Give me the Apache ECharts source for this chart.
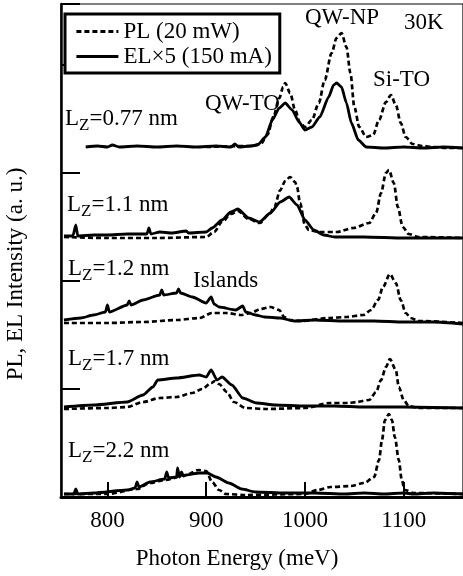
<!DOCTYPE html>
<html>
<head>
<meta charset="utf-8">
<script src="https://cdn.jsdelivr.net/npm/echarts@6/dist/echarts.min.js"></script>
<style>
  html, body { margin: 0; padding: 0; background: #fff; }
  #chart { width: 463px; height: 576px; }
</style>
</head>
<body>
<div id="chart"></div>
<script>
// Photon energy axis (meV) and labelled ticks
const energyTicks = [800, 900, 1000, 1100];

// Well widths for each stacked spectrum (top to bottom)
const wellWidths = ['0.77', '1.1', '1.2', '1.7', '2.2'];

// Vertical offset of each spectrum's baseline (a. u.)
const baselines = [350, 259, 174, 89, 3];

// Spectra as [photon energy (meV), intensity (a. u.)]
// Lz = 0.77 nm
const el077 = [[778,0],[790,1],[800,0],[805,2],[812,0],[830,1],[850,0],[870,1],[890,0],[910,1],[925,0],[929,3],[933,0],[945,1],[952,2],[960,10],[967,27],[974,39],[980,44],[987,37],[994,25],[1000,17],[1007,20],[1015,30],[1024,50],[1029,62],[1032,64],[1037,60],[1042,44],[1047,24],[1054,7],[1062,0],[1080,-1],[1100,0],[1120,-1],[1140,0],[1160,-1]];
const pl077 = [[900,0],[945,1],[955,3],[962,12],[968,30],[974,49],[978,60],[980,64],[985,54],[990,37],[995,24],[1000,20],[1007,27],[1014,44],[1020,67],[1027,94],[1032,109],[1037,114],[1042,100],[1046,74],[1050,40],[1055,20],[1062,10],[1069,12],[1075,27],[1082,45],[1087,52],[1092,42],[1097,24],[1102,10],[1109,3],[1119,1],[1130,0],[1145,-1],[1160,-1]];

// Lz = 1.1 nm
const el11 = [[756,2],[765,2],[768,13],[770,2],[786,3],[800,3],[820,4],[840,4],[842,10],[844,4],[853,6],[865,5],[880,7],[882,5],[900,6],[906,10],[916,18],[925,26],[932,29],[943,20],[954,16],[965,25],[975,36],[984,41],[992,33],[1000,18],[1009,8],[1019,3],[1030,1],[1060,1],[1100,0],[1130,0],[1160,0]];
const pl11 = [[756,1],[800,0],[850,0],[900,1],[908,6],[916,16],[925,24],[932,27],[943,19],[954,15],[964,24],[969,31],[975,48],[980,57],[985,61],[990,56],[992,51],[995,35],[1000,13],[1004,8],[1014,6],[1032,6],[1049,10],[1065,15],[1072,25],[1077,45],[1082,65],[1085,68],[1090,55],[1094,31],[1099,11],[1105,4],[1115,1],[1160,0]];

// Lz = 1.2 nm
const el12 = [[756,3],[773,5],[786,8],[798,11],[800,18],[802,11],[820,18],[822,22],[824,18],[836,23],[853,28],[855,33],[857,28],[870,30],[872,34],[874,30],[886,26],[900,20],[905,26],[908,19],[913,16],[930,13],[937,17],[940,11],[950,8],[959,6],[975,5],[989,2],[1010,3],[1040,2],[1070,2],[1100,1],[1130,1],[1160,-1]];
const pl12 = [[756,0],[800,0],[836,1],[870,3],[893,5],[906,10],[920,10],[936,8],[945,10],[955,14],[965,16],[974,13],[979,6],[985,3],[995,2],[1025,5],[1042,6],[1059,8],[1067,13],[1074,23],[1079,36],[1086,49],[1092,40],[1097,23],[1102,10],[1107,5],[1115,2],[1160,0]];

// Lz = 1.7 nm
const el17 = [[756,1],[786,3],[820,6],[836,13],[846,21],[851,28],[870,30],[893,33],[900,31],[905,38],[911,28],[916,31],[926,23],[937,10],[951,5],[970,3],[1000,2],[1030,2],[1060,1],[1100,1],[1160,0]];
const pl17 = [[756,-1],[800,0],[820,1],[836,6],[853,10],[870,11],[886,15],[896,19],[905,25],[909,27],[913,24],[921,16],[928,6],[940,0],[960,-1],[1000,0],[1025,5],[1045,5],[1052,6],[1065,8],[1072,16],[1077,28],[1082,41],[1086,49],[1092,38],[1095,21],[1100,8],[1105,2],[1115,0],[1160,0]];

// Lz = 2.2 nm
const el22 = [[756,0],[766,0],[768,5],[770,0],[786,1],[820,4],[828,6],[830,12],[832,7],[843,12],[858,15],[860,22],[862,16],[870,17],[871,26],[873,17],[875,22],[877,18],[880,19],[893,21],[901,21],[910,17],[923,11],[936,5],[950,2],[980,1],[1010,1],[1040,0],[1060,1],[1080,0],[1100,1],[1110,0],[1130,1],[1160,0]];
const pl22 = [[756,0],[800,0],[830,5],[843,11],[858,14],[880,19],[892,24],[900,23],[906,12],[913,4],[920,0],[940,-1],[1000,0],[1013,4],[1026,7],[1046,8],[1060,11],[1070,17],[1075,34],[1078,54],[1081,74],[1085,80],[1088,74],[1091,57],[1095,34],[1098,14],[1101,4],[1110,1],[1160,0]];

const plSpectra = [pl077, pl11, pl12, pl17, pl22];
const elSpectra = [el077, el11, el12, el17, el22];

const plName = 'PL (20 mW)';
const elName = 'EL×5 (150 mA)';

const serif = '"Liberation Serif", "DejaVu Serif", serif';

const series = [];
plSpectra.forEach((spec, i) => {
  series.push({
    name: plName, type: 'line', symbol: 'none', smooth: 0.3, smoothMonotone: 'x',
    data: spec.map(([e, v]) => [e, v + baselines[i]]),
    lineStyle: { color: '#000', width: 2.7, type: [5, 3] },
    itemStyle: { color: '#000' },
    z: 3
  });
});
elSpectra.forEach((spec, i) => {
  series.push({
    name: elName, type: 'line', symbol: 'none', smooth: 0.2, smoothMonotone: 'x',
    data: spec.map(([e, v]) => [e, v + baselines[i]]),
    lineStyle: { color: '#000', width: 2.8 },
    itemStyle: { color: '#000' },
    z: 4
  });
});

// Text annotations
const labelFont = '23px ' + serif;
const wellLabelPos = [[65, 119], [67, 205], [68, 269], [68, 359], [68, 451]];
const graphics = wellWidths.map((w, i) => ({
  type: 'text', x: wellLabelPos[i][0], y: wellLabelPos[i][1], z: 5,
  style: {
    text: 'L{sub|Z}=' + w + ' nm',
    fontSize: 23, fontFamily: serif, fill: '#000',
    align: 'left', verticalAlign: 'middle',
    rich: { sub: { fontSize: 17, fontFamily: serif, fill: '#000', padding: [14, 0, 0, 0], verticalAlign: 'bottom' } }
  }
}));
[
  ['QW-TO', 205, 104], ['QW-NP', 305, 18], ['30K', 404, 23],
  ['Si-TO', 373, 80], ['Islands', 193, 281]
].forEach(([t, x, y]) => graphics.push({
  type: 'text', x, y, z: 5,
  style: { text: t, font: labelFont, fill: '#000', align: 'left', verticalAlign: 'middle' }
}));
graphics.push({
  type: 'text', x: 237, y: 559, z: 5,
  style: { text: 'Photon Energy (meV)', font: labelFont, fill: '#000', align: 'center', verticalAlign: 'middle' }
});
graphics.push({
  type: 'text', x: 16, y: 274, rotation: Math.PI / 2, z: 5,
  style: { text: 'PL, EL Intensity (a. u.)', font: labelFont, fill: '#000', align: 'center', verticalAlign: 'middle' }
});

const chart = echarts.init(document.getElementById('chart'), null, { renderer: 'canvas' });
chart.setOption({
  backgroundColor: '#fff',
  animation: false,
  grid: { left: 61, top: 4, width: 407, height: 493, show: true, borderColor: '#000', borderWidth: 1.2, backgroundColor: 'transparent' },
  xAxis: {
    type: 'value', min: 753, max: 1160,
    axisLine: { show: true, lineStyle: { color: '#000', width: 3 } },
    axisTick: { show: true, inside: true, length: 15, customValues: energyTicks, lineStyle: { color: '#000', width: 2 } },
    axisLabel: { show: true, customValues: energyTicks, formatter: v => String(v), fontSize: 23, fontFamily: serif, color: '#000', margin: 12 },
    splitLine: { show: false }
  },
  yAxis: {
    type: 'value', min: 0, max: 493, interval: 108,
    axisLine: { show: true, lineStyle: { color: '#000', width: 2.5 } },
    axisTick: { show: true, inside: true, length: 19, lineStyle: { color: '#000', width: 2 } },
    axisLabel: { show: false },
    splitLine: { show: false }
  },
  legend: {
    data: [plName, elName],
    orient: 'vertical', left: 65, top: 14,
    itemWidth: 42, itemHeight: 12, itemGap: 2,
    padding: [6, 8, 5, 10],
    backgroundColor: '#fff', borderColor: '#000', borderWidth: 3,
    selectedMode: false,
    itemStyle: { opacity: 0 },
    lineStyle: { width: 2.8 },
    textStyle: { fontSize: 23, fontFamily: serif, color: '#000' }
  },
  graphic: graphics,
  series
});
</script>
</body>
</html>
